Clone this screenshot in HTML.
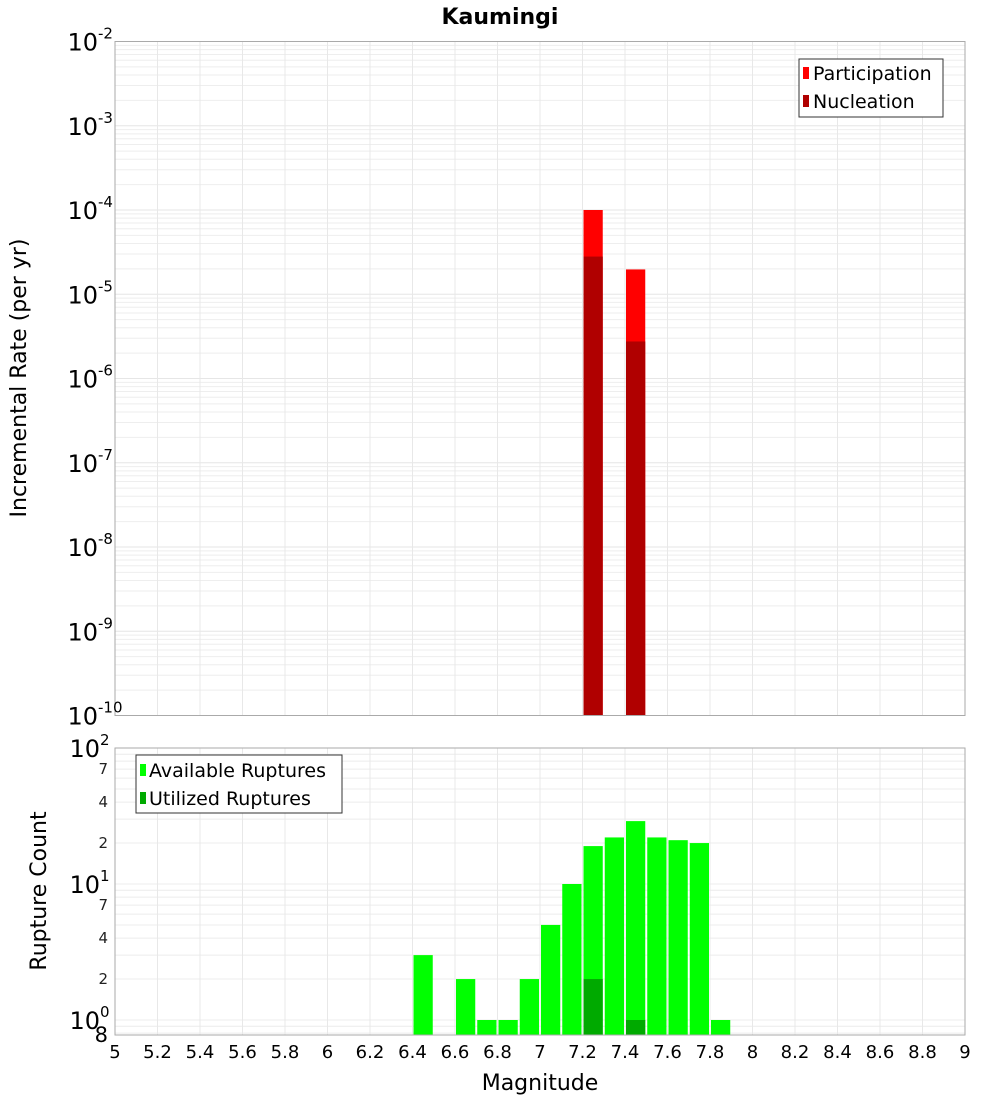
<!DOCTYPE html>
<html><head><meta charset="utf-8">
<style>
html,body{margin:0;padding:0;background:#fff;}
svg{display:block;font-family:"DejaVu Sans","Liberation Sans",sans-serif;}
</style></head>
<body>
<svg id="chart" width="1000" height="1100" xmlns="http://www.w3.org/2000/svg">
<text x="500" y="24" text-anchor="middle" font-size="22" font-weight="bold">Kaumingi</text>
<text transform="translate(26,378) rotate(-90)" text-anchor="middle" font-size="22">Incremental Rate (per yr)</text>
<text transform="translate(46,891) rotate(-90)" text-anchor="middle" font-size="22">Rupture Count</text>
<text x="540" y="1090" text-anchor="middle" font-size="22">Magnitude</text>
<g id="gtop"></g>
<g id="gbot"></g>
<g id="gax"></g>
<g>
<rect x="799" y="59" width="144" height="58" fill="#fff" stroke="#333" stroke-width="1"/>
<rect x="803" y="67" width="6" height="12" fill="#ff0000"/>
<text x="813" y="80" font-size="19">Participation</text>
<rect x="803" y="95" width="6" height="12" fill="#b00000"/>
<text x="813" y="108" font-size="19">Nucleation</text>
</g>
<g>
<rect x="136" y="755" width="206" height="58" fill="#fff" stroke="#333" stroke-width="1"/>
<rect x="140" y="764" width="6" height="12" fill="#00ff00"/>
<text x="149" y="777" font-size="19">Available Ruptures</text>
<rect x="140" y="792" width="6" height="12" fill="#00aa00"/>
<text x="149" y="805" font-size="19">Utilized Ruptures</text>
</g>
</svg>
<script>
const binCenters=[7.25,7.45];
const participation=[1e-4,1.97e-5];
const nucleation=[2.8e-5,2.75e-6];
const countCenters=[6.45,6.55,6.65,6.75,6.85,6.95,7.05,7.15,7.25,7.35,7.45,7.55,7.65,7.75,7.85];
const available=[3,0,2,1,1,2,5,10,19,22,29,22,21,20,1];
const utilized=[0,0,0,0,0,0,0,0,2,0,1,0,0,0,0];
const xTicks=[5,5.2,5.4,5.6,5.8,6,6.2,6.4,6.6,6.8,7,7.2,7.4,7.6,7.8,8,8.2,8.4,8.6,8.8,9];
const topExps=[-10,-9,-8,-7,-6,-5,-4,-3,-2];
const botMinorLabels=[2,4,7,20,40,70];

const NS="http://www.w3.org/2000/svg";
const PL=115,PR=965,T1=41.5,B1=715.5,T2=748,B2=1035;
const X=v=>PL+(v-5)/4*(PR-PL);
const Y1=v=>T1+(-2-Math.log10(v))/8*(B1-T1);
const DEC2=136;
const Y2=v=>T2+(2-Math.log10(v))*DEC2;
function mk(parent,tag,attrs){const e=document.createElementNS(NS,tag);for(const k in attrs)e.setAttribute(k,attrs[k]);parent.appendChild(e);return e;}
const gTop=document.getElementById('gtop'),gBot=document.getElementById('gbot'),gAx=document.getElementById('gax');

for(let e=-10;e<-2;e++){for(let m=1;m<10;m++){const y=Y1(m*Math.pow(10,e));
const g=mk(gTop,'line',{x1:PL,x2:PR,y1:y,y2:y,stroke:m===1?'#e6e6e6':'#eeeeee','stroke-width':1});

}}
xTicks.forEach(t=>{const x=X(t);const g=mk(gTop,'line',{x1:x,x2:x,y1:T1,y2:B1,stroke:'#e8e8e8'});

});
for(let e=-1;e<2;e++){for(let m=1;m<10;m++){const v=m*Math.pow(10,e);const y=Y2(v);if(y<T2-0.5||y>B2)continue;
const g=mk(gBot,'line',{x1:PL,x2:PR,y1:y,y2:y,stroke:'#ececec'});

}}
xTicks.forEach(t=>{const x=X(t);const g=mk(gBot,'line',{x1:x,x2:x,y1:T2,y2:B2,stroke:'#e8e8e8'});

});

const bw=(X(5.1)-X(5))-2;
binCenters.forEach((c,i)=>{
 const x=X(c)-bw/2;
 let y=Y1(participation[i]);
 const p=mk(gTop,'rect',{x:x,y:y,width:bw,height:B1-y,fill:'#ff0000'});
 
 
 y=Y1(nucleation[i]);
 const n=mk(gTop,'rect',{x:x,y:y,width:bw,height:B1-y,fill:'#b00000'});
 
 
});
countCenters.forEach((c,i)=>{
 const x=X(c)-bw/2;
 if(available[i]>0){const y=Y2(available[i]);
 const a=mk(gBot,'rect',{x:x,y:y,width:bw,height:B2-y,fill:'#00ff00'});
 
 }
 if(utilized[i]>0){const y=Y2(utilized[i]);
 const u=mk(gBot,'rect',{x:x,y:y,width:bw,height:B2-y,fill:'#00aa00'});
 
 }
});
[[T1,B1],[T2,B2]].forEach(([a,b])=>{const f=mk(gAx,'rect',{x:PL,y:a,width:PR-PL,height:b-a,fill:'none',stroke:'#aaaaaa'});

});
topExps.forEach(e=>{const y=Y1(Math.pow(10,e));
 const t=mk(gAx,'text',{x:98,y:y+9,'text-anchor':'end','font-size':24});t.textContent='10';
 
 
 const s=mk(gAx,'text',{x:98,y:y-3,'font-size':15});s.textContent=String(e);
 
 });
[0,1,2].forEach(e=>{const y=Y2(Math.pow(10,e));
 const t=mk(gAx,'text',{x:100,y:y+9,'text-anchor':'end','font-size':24});t.textContent='10';
 
 
 const s=mk(gAx,'text',{x:100,y:y-3,'text-anchor':'start','font-size':15});s.textContent=String(e);
 
 });
botMinorLabels.forEach(v=>{const y=Y2(v);
 const t=mk(gAx,'text',{x:108,y:y+5,'text-anchor':'end','font-size':15,fill:'#222'});t.textContent=String(v).charAt(0);
 
 });
{const t=mk(gAx,'text',{x:108,y:Y2(0.8)+9,'text-anchor':'end','font-size':21});t.textContent='8';
 
 }
xTicks.forEach(v=>{const t=mk(gAx,'text',{x:X(v),y:1058,'text-anchor':'middle','font-size':18});t.textContent=String(v);
 
 });
</script>
</body></html>
